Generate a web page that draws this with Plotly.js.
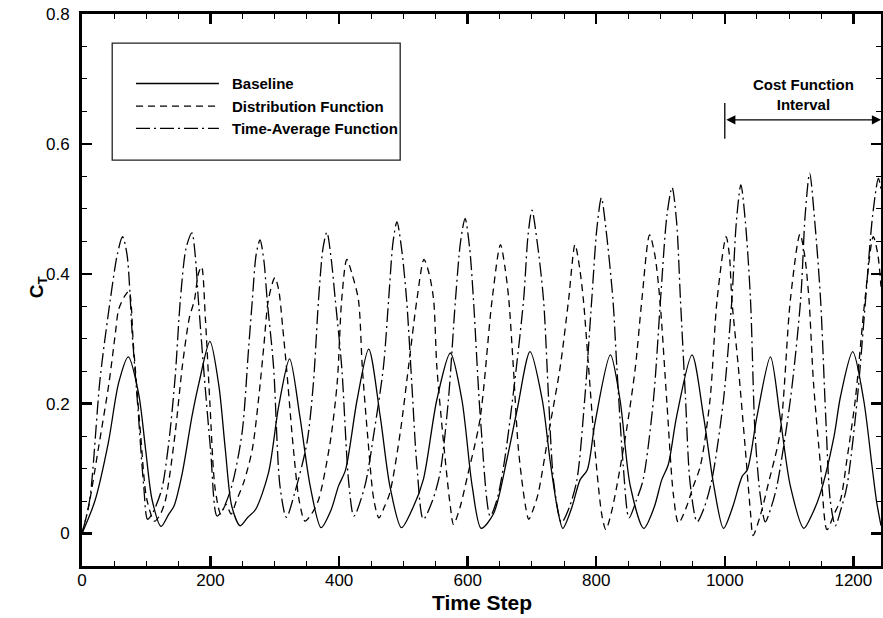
<!DOCTYPE html>
<html>
<head>
<meta charset="utf-8">
<script src="https://cdn.plot.ly/plotly-3.0.1.min.js"></script>
<style>html,body{margin:0;padding:0;background:#fff;}#chart{width:883px;height:618px;}</style>
</head>
<body>
<div id="chart"></div>
<script>
// ---- Data ----
const seriesNames = ["Baseline", "Distribution Function", "Time-Average Function"];

const baseT = [0,20,41,57,72,88,99,109,123,135,143,156,171,182,199,213,223,233,246,258,270,290,306,323,339,355,372,387,399,410,428,446,464,479,497,515,531,552,573,591,607,621,640,661,677,697,716,728,739,748,762,775,786,798,822,837,853,874,890,902,912,925,949,967,983,998,1012,1027,1035,1050,1071,1086,1102,1123,1136,1149,1170,1180,1199,1216,1229,1236,1243];
const baseV = [0,0.05,0.14,0.232,0.272,0.216,0.129,0.052,0.011,0.03,0.042,0.093,0.18,0.232,0.296,0.227,0.129,0.042,0.012,0.025,0.037,0.093,0.196,0.269,0.18,0.073,0.009,0.035,0.073,0.098,0.206,0.284,0.18,0.073,0.009,0.04,0.083,0.206,0.278,0.206,0.073,0.008,0.03,0.114,0.191,0.28,0.206,0.114,0.042,0.008,0.04,0.083,0.098,0.17,0.275,0.206,0.073,0.008,0.04,0.083,0.106,0.18,0.275,0.18,0.073,0.008,0.04,0.088,0.098,0.18,0.272,0.18,0.073,0.008,0.03,0.063,0.15,0.211,0.28,0.206,0.104,0.05,0.012];

const distT = [0,10,26,42,52,57,66,73,80,91,101,113,122,130,145,156,167,175,181,186,192,199,207,216,224,232,240,252,265,275,283,290,300,306,312,318,329,338,347,357,368,386,397,404,412,420,430,436,444,454,462,470,479,495,508,521,532,540,547,552,562,573,578,588,600,619,638,651,658,664,671,679,690,695,703,710,726,744,757,767,774,780,788,798,809,815,823,832,848,861,871,883,891,899,910,920,928,940,950,962,977,988,1002,1007,1011,1021,1032,1040,1044,1055,1068,1086,1102,1117,1124,1131,1138,1149,1159,1170,1180,1190,1203,1218,1231,1238,1243];
const distV = [0,0.04,0.134,0.232,0.309,0.345,0.365,0.373,0.29,0.155,0.052,0.019,0.03,0.052,0.155,0.257,0.332,0.36,0.40,0.411,0.33,0.2,0.07,0.03,0.045,0.03,0.05,0.08,0.13,0.21,0.29,0.36,0.394,0.375,0.32,0.257,0.129,0.05,0.019,0.03,0.052,0.14,0.232,0.36,0.422,0.40,0.36,0.257,0.155,0.052,0.024,0.04,0.063,0.155,0.257,0.36,0.422,0.40,0.36,0.257,0.145,0.042,0.014,0.04,0.09,0.175,0.36,0.445,0.41,0.36,0.257,0.129,0.042,0.022,0.04,0.063,0.155,0.257,0.36,0.445,0.41,0.36,0.257,0.129,0.027,0.006,0.03,0.073,0.165,0.257,0.36,0.46,0.43,0.36,0.2,0.06,0.016,0.04,0.07,0.104,0.206,0.36,0.457,0.43,0.36,0.257,0.129,0.032,-0.003,0.027,0.078,0.155,0.36,0.461,0.43,0.36,0.232,0.104,0.006,0.03,0.052,0.114,0.206,0.36,0.457,0.43,0.38];

const avgT = [0,12,28,44,55,63,70,78,86,96,102,110,124,135,145,153,162,171,176,181,189,200,210,218,233,249,259,265,271,277,283,288,298,308,318,331,350,360,368,375,381,388,394,404,415,423,440,455,469,477,484,490,497,505,513,521,531,545,557,570,581,589,596,603,609,620,635,645,656,671,687,694,700,708,718,726,734,746,758,770,782,793,801,808,815,826,832,842,851,862,873,889,900,910,918,925,931,939,946,957,968,980,998,1011,1018,1025,1032,1040,1047,1055,1063,1072,1081,1102,1118,1125,1132,1140,1149,1157,1164,1172,1180,1190,1206,1219,1230,1239,1243];
const avgV = [0,0.052,0.237,0.36,0.43,0.457,0.43,0.309,0.206,0.073,0.022,0.032,0.068,0.14,0.242,0.36,0.44,0.463,0.43,0.36,0.257,0.129,0.027,0.035,0.073,0.155,0.283,0.36,0.43,0.452,0.42,0.36,0.257,0.073,0.025,0.063,0.14,0.232,0.36,0.44,0.464,0.42,0.36,0.257,0.078,0.027,0.073,0.16,0.257,0.36,0.45,0.48,0.44,0.36,0.232,0.104,0.022,0.05,0.093,0.206,0.36,0.45,0.485,0.44,0.36,0.175,0.027,0.05,0.104,0.216,0.36,0.46,0.498,0.45,0.36,0.206,0.078,0.017,0.04,0.083,0.206,0.36,0.47,0.517,0.47,0.36,0.257,0.104,0.024,0.05,0.083,0.206,0.36,0.49,0.533,0.48,0.36,0.206,0.078,0.018,0.04,0.083,0.206,0.36,0.48,0.537,0.48,0.36,0.155,0.06,0.018,0.04,0.073,0.206,0.36,0.49,0.555,0.48,0.36,0.18,0.052,0.012,0.035,0.073,0.206,0.36,0.49,0.547,0.53];

const xTitle = "Time Step";
const yTitle = "C<sub>T</sub>";
const costLabel = "Cost Function<br>Interval";
const costStart = 1000;

// ---- Drawing ----
const FONT = "Liberation Sans, Arial, Helvetica, sans-serif";
const dashStyles = ["solid", "7px,5px", "14px,4px,2px,4px"];
const xs = [baseT, distT, avgT];
const ys = [baseV, distV, avgV];

const traces = xs.map((x, i) => ({
  x: x, y: ys[i], type: "scatter", mode: "lines", name: seriesNames[i],
  line: {color: "#000", width: 1.3, dash: dashStyles[i], shape: "spline", smoothing: 0.8},
  hoverinfo: "skip"
}));
// empty trace that activates the mirrored (top/right) tick axes
traces.push({x: [], y: [], type: "scatter", mode: "lines", xaxis: "x2", yaxis: "y2", hoverinfo: "skip", showlegend: false});

// legend drawn as a boxed key (data coordinates)
const legRowsY = [0.693, 0.658, 0.624];
const shapes = [
  {type: "rect", xref: "x", yref: "y", x0: 47, x1: 495, y0: 0.575, y1: 0.755,
   line: {color: "#222", width: 1.3}, fillcolor: "rgba(0,0,0,0)"}
];
const annotations = [];
seriesNames.forEach((n, i) => {
  shapes.push({type: "line", xref: "x", yref: "y", x0: 84, x1: 213, y0: legRowsY[i], y1: legRowsY[i],
    line: {color: "#000", width: 1.3, dash: dashStyles[i]}});
  annotations.push({xref: "x", yref: "y", x: 231, y: legRowsY[i], text: "<b>" + n + "</b>",
    showarrow: false, xanchor: "left", yanchor: "middle", font: {family: FONT, size: 15, color: "#000"}});
});

// cost function interval marker
shapes.push({type: "line", xref: "x", yref: "y", x0: costStart, x1: costStart, y0: 0.608, y1: 0.663,
  line: {color: "#000", width: 1.3}});
annotations.push({xref: "x", yref: "y", axref: "x", ayref: "y", x: 1243, y: 0.637, ax: costStart, ay: 0.637,
  text: "", showarrow: true, arrowhead: 2, arrowside: "end+start", arrowsize: 1.4, arrowwidth: 1.3,
  arrowcolor: "#000", standoff: 0, startstandoff: 0});
annotations.push({xref: "x", yref: "y", x: 1123, y: 0.676, text: "<b>" + costLabel + "</b>", showarrow: false,
  xanchor: "center", yanchor: "middle", font: {family: FONT, size: 15, color: "#000"}});

// axis titles placed as annotations (paper / pixel offsets)
annotations.push({xref: "paper", yref: "paper", x: 0.5, y: 0, yshift: -36, text: "<b>" + xTitle + "</b>",
  showarrow: false, xanchor: "center", yanchor: "middle", font: {family: FONT, size: 21, color: "#000"}});
annotations.push({xref: "paper", yref: "paper", x: 0, xshift: -44, y: 0.505, text: "<b>" + yTitle + "</b>",
  showarrow: false, xanchor: "center", yanchor: "middle", textangle: -90, font: {family: FONT, size: 19, color: "#000"}});

const tickCommon = {
  ticks: "inside", ticklen: 10, tickwidth: 2.5, tickcolor: "#000",
  showgrid: false, zeroline: false,
  tickfont: {family: FONT, size: 17, color: "#000"}
};
const xMinor = {dtick: 50, ticks: "inside", ticklen: 5, tickwidth: 1, tickcolor: "#000", showgrid: false};
const yMinor = {dtick: 0.05, ticks: "inside", ticklen: 5, tickwidth: 1, tickcolor: "#000", showgrid: false};
const xRange = [0, 1243];
const yRange = [-0.05, 0.8];

const layout = {
  width: 883, height: 618,
  margin: {l: 82, r: 2, t: 13.5, b: 51.5, pad: 0},
  paper_bgcolor: "#fff", plot_bgcolor: "#fff",
  showlegend: false,
  xaxis: Object.assign({}, tickCommon, {
    range: xRange, tick0: 0, dtick: 200, ticklabelstandoff: -3,
    showline: true, linecolor: "#000", linewidth: 3, mirror: true, minor: xMinor
  }),
  yaxis: Object.assign({}, tickCommon, {
    range: yRange, tick0: 0, dtick: 0.2, ticklabelstandoff: 6,
    showline: true, linecolor: "#000", linewidth: 3, mirror: true, minor: yMinor
  }),
  xaxis2: Object.assign({}, tickCommon, {
    range: xRange, tick0: 0, dtick: 200, overlaying: "x", side: "top", anchor: "y2",
    showticklabels: false, showline: false, minor: xMinor
  }),
  yaxis2: Object.assign({}, tickCommon, {
    range: yRange, tick0: 0, dtick: 0.2, overlaying: "y", side: "right", anchor: "x2",
    showticklabels: false, showline: false, minor: yMinor
  }),
  shapes: shapes,
  annotations: annotations
};

Plotly.newPlot("chart", traces, layout, {staticPlot: true, displayModeBar: false});
</script>
</body>
</html>
